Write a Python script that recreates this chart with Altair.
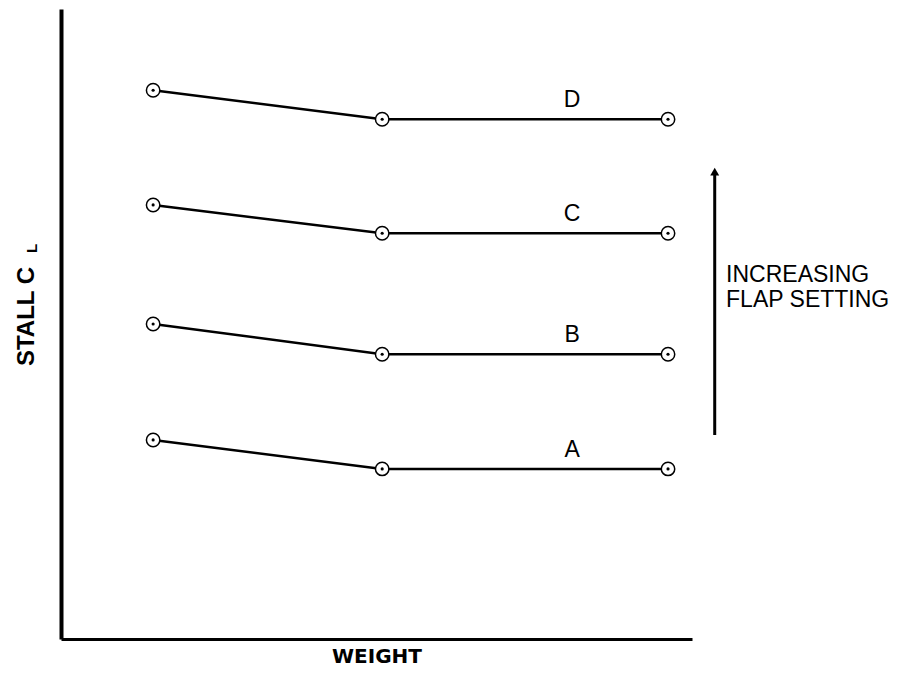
import altair as alt
import pandas as pd

# Data (arbitrary units, axes unlabeled)
weights = [1.46, 5.09, 9.62]
series = ["A", "B", "C", "D"]
cl_A = [3.16, 2.70, 2.70]
cl_B = [5.00, 4.52, 4.52]
cl_C = [6.89, 6.44, 6.44]
cl_D = [8.71, 8.25, 8.25]
label_x = [8.1, 8.1, 8.1, 8.1]

rows = []
for s, vals in zip(series, [cl_A, cl_B, cl_C, cl_D]):
    for w, v in zip(weights, vals):
        rows.append({"series": s, "weight": w, "cl": v})
df = pd.DataFrame(rows)

lab_df = pd.DataFrame({
    "series": series,
    "x": label_x,
    "y": [cl_A[-1], cl_B[-1], cl_C[-1], cl_D[-1]],
})

arrow_x = 10.36
arrow_bottom = 3.24
arrow_top = 7.40
arrow_df = pd.DataFrame({"x": [arrow_x], "y": [arrow_bottom], "y2": [arrow_top]})
head_df = pd.DataFrame({"x": [arrow_x], "y": [7.42]})
note_lines = ["INCREASING", "FLAP SETTING"]
note_df = pd.DataFrame({"x": [10.54, 10.54], "y": [5.67, 5.27], "t": note_lines})
sub_df = pd.DataFrame({"x": [-0.38], "y": [6.2], "t": ["L"]})

FONT = "Liberation Sans"
xs = alt.Scale(domain=[0, 10], nice=False, zero=False)
ys = alt.Scale(domain=[0, 10], nice=False, zero=False)

xenc = alt.X("weight:Q", scale=xs,
             axis=alt.Axis(title="WEIGHT", labels=False, ticks=False, grid=False,
                           domainColor="black", domainWidth=3,
                           titleFont="DejaVu Sans", titleFontSize=20, titleFontWeight="bold",
                           titleColor="black", titleBaseline="alphabetic", titleY=23))
yenc = alt.Y("cl:Q", scale=ys,
             axis=alt.Axis(title="STALL C", labels=False, ticks=False, grid=False,
                           domainColor="black", domainWidth=4,
                           titleFont=FONT, titleFontSize=24, titleFontWeight="bold",
                           titleColor="black", titleAngle=270, titleBaseline="alphabetic",
                           titleAlign="center", titleX=-28, titleY=307))

lines = alt.Chart(df).mark_line(color="black", strokeWidth=2.5).encode(
    x=xenc, y=yenc, detail="series:N")
circles = alt.Chart(df).mark_point(shape="circle", size=180, filled=True, fill="white",
                                   stroke="black", strokeWidth=1.5, opacity=1).encode(
    x="weight:Q", y="cl:Q")
dots = alt.Chart(df).mark_point(shape="circle", size=10, filled=True, color="black",
                                opacity=1).encode(x="weight:Q", y="cl:Q")
labels = alt.Chart(lab_df).mark_text(font=FONT, fontSize=23, color="black",
                                     baseline="alphabetic", align="center", dy=-12).encode(
    x=alt.X("x:Q", scale=xs), y=alt.Y("y:Q", scale=ys), text="series:N")
arrow = alt.Chart(arrow_df).mark_rule(color="black", strokeWidth=3).encode(
    x=alt.X("x:Q", scale=xs), y=alt.Y("y:Q", scale=ys), y2="y2:Q")
head = alt.Chart(head_df).mark_point(shape="triangle-up", size=80, filled=True,
                                     color="black", opacity=1).encode(
    x=alt.X("x:Q", scale=xs), y=alt.Y("y:Q", scale=ys))
note = alt.Chart(note_df).mark_text(font=FONT, fontSize=23, color="black",
                                    align="left", baseline="alphabetic").encode(
    x=alt.X("x:Q", scale=xs), y=alt.Y("y:Q", scale=ys), text="t:N")
sub = alt.Chart(sub_df).mark_text(font=FONT, fontSize=15, fontWeight="bold", color="black",
                                  align="center", baseline="alphabetic", angle=270).encode(
    x=alt.X("x:Q", scale=xs), y=alt.Y("y:Q", scale=ys), text="t:N")

chart = alt.layer(lines, circles, dots, labels, arrow, head, note, sub).properties(
    width=631, height=630,
    background="white",
    autosize=alt.AutoSizeParams(type="none"),
    padding={"left": 53, "top": 1, "right": 210, "bottom": 30},
).configure_view(strokeWidth=0, stroke=None)

chart.save("out.html", embed_options={"renderer": "svg", "actions": False})
